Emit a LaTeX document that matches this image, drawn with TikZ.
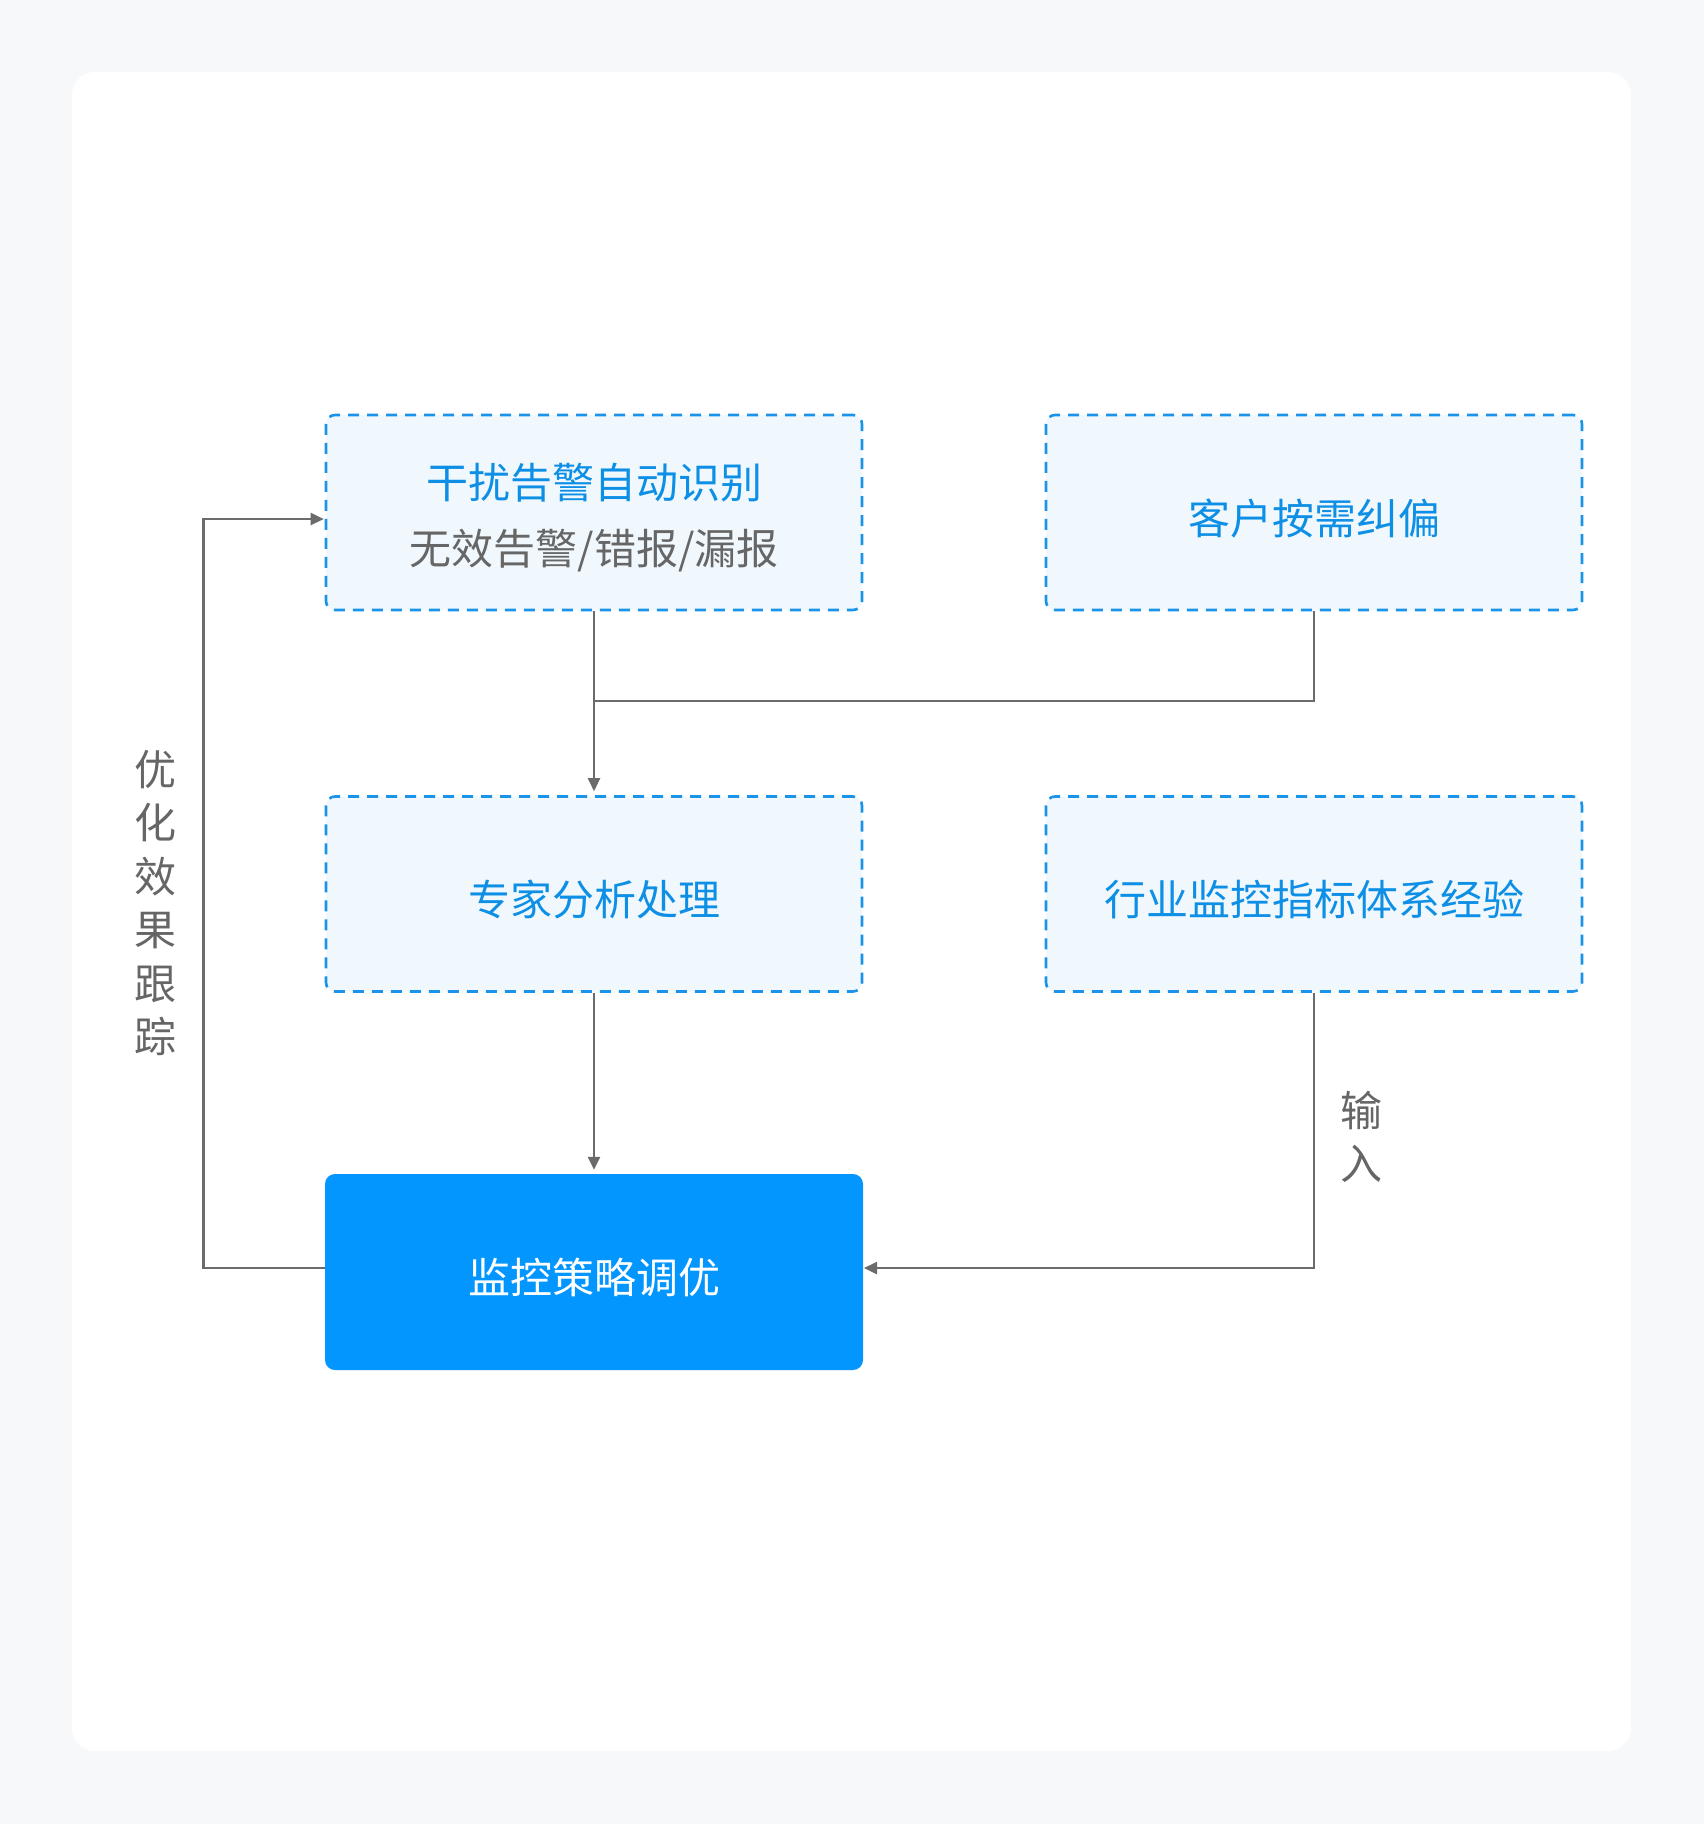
\documentclass[tikz,border=0pt]{standalone}
\usepackage{fontspec}
\setmainfont{Noto Sans CJK SC}
\usetikzlibrary{arrows.meta}
\definecolor{bgc}{HTML}{F7F8FA}
\definecolor{dashc}{HTML}{1A93E8}
\definecolor{fillc}{HTML}{F0F8FE}
\definecolor{bluet}{HTML}{0E8FE6}
\definecolor{solidc}{HTML}{0396FF}
\definecolor{grayt}{HTML}{666666}
\definecolor{linec}{HTML}{6B6B6B}
\begin{document}
\begin{tikzpicture}[x=1pt,y=-1pt,
  dbox/.style={draw=dashc, fill=fillc, line width=2.6pt, dash pattern=on 11pt off 8pt,
    rounded corners=9pt, minimum width=536pt, minimum height=195pt, inner sep=0pt},
  sbox/.style={fill=solidc, rounded corners=10pt, minimum width=538pt, minimum height=196pt,
    inner sep=0pt},
  btext/.style={text=bluet, font=\fontsize{42}{66}\selectfont, align=center, inner sep=0pt, yshift=-5.5pt},
  conn/.style={draw=linec, line width=2.5pt},
  arr/.style={conn, -{Triangle[length=13pt,width=12pt]}},
  lbl/.style={text=grayt, font=\fontsize{42}{53.5}\selectfont, align=center, inner sep=0pt}]
\fill[bgc] (0,0) rectangle (1704,1824);
\useasboundingbox (0,0) rectangle (1704,1824);
\fill[white, rounded corners=23pt] (72,72) rectangle (1631,1751);

\node[dbox] (a) at (594,512.5) {};
\node[dbox] (b) at (1314,512.5) {};
\node[dbox] (c) at (594,894) {};
\node[dbox] (d) at (1314,894) {};
\node[sbox] (e) at (594,1272) {};

\node[btext] (ta) at (a.center) {干扰告警自动识别\\{\color{grayt}无效告警/错报/漏报}};
\node[btext] (tb) at (b.center) {客户按需纠偏};
\node[btext] (tc) at (c.center) {专家分析处理};
\node[btext] (td) at (d.center) {行业监控指标体系经验};
\node[btext, text=white] (te) at (e.center) {监控策略调优};

\coordinate (j) at (594,701);
\coordinate (l) at (203.5,519);
\coordinate (r) at (863,1268);

\draw[conn] (b.south) |- (j);
\draw[arr, shorten >=4pt] (a.south) -- (c.north);
\draw[arr, shorten >=4pt] (c.south) -- (e.north);
\draw[arr, shorten >=1pt] (d.south) |- (r);
\draw[arr, shorten >=1pt] (e.west |- r) -| (l) -- (a.west |- l);

\node[lbl] (t1) at (155,903) {优\\化\\效\\果\\跟\\踪};
\node[lbl] (t2) at (1361,1137) {输\\入};
\end{tikzpicture}
\end{document}
